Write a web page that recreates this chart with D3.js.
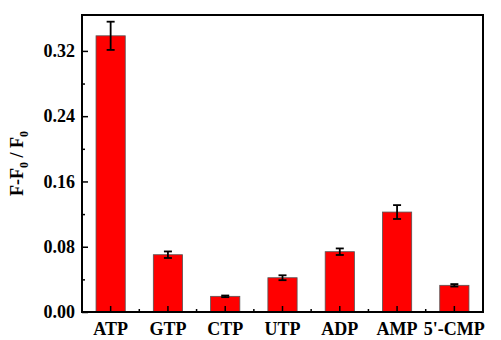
<!DOCTYPE html>
<html><head><meta charset="utf-8">
<script src="https://cdn.jsdelivr.net/npm/d3@7"></script>
<style>body{margin:0;background:#fff}svg{display:block}</style>
</head><body>
<script>
const categories = ["ATP","GTP","CTP","UTP","ADP","AMP","5'-CMP"];
const values = [0.3385, 0.0702, 0.0192, 0.0420, 0.0739, 0.1225, 0.0327];
const errors = [0.0173, 0.0040, 0.0010, 0.0030, 0.0040, 0.0085, 0.0015];
const yTicks = [0, 0.08, 0.16, 0.24, 0.32];
const yMinorTicks = [0.04, 0.12, 0.20, 0.28];

const W = 501, H = 340;
const m = {left: 82, right: 18, top: 15, bottom: 28};
const svg = d3.select("body").append("svg").attr("width", W).attr("height", H);
const font = "'Liberation Serif','Times New Roman',serif";

const x = d3.scaleBand().domain(categories).range([m.left, W - m.right]).paddingInner(0.49).paddingOuter(0.245);
const y = d3.scaleLinear().domain([0, 0.364]).range([H - m.bottom, m.top]);

const g = svg.append("g");
// bars
g.selectAll("rect.bar").data(categories).join("rect")
  .attr("x", d => x(d)).attr("width", x.bandwidth())
  .attr("y", (d,i) => y(values[i])).attr("height", (d,i) => y(0) - y(values[i]))
  .attr("fill", "#ff0000").attr("stroke", "#555").attr("stroke-width", 0.8);

// error bars
const cap = 4;
const eb = g.selectAll("g.err").data(categories).join("g");
eb.append("line").attr("x1", d => x(d) + x.bandwidth()/2).attr("x2", d => x(d) + x.bandwidth()/2)
  .attr("y1", (d,i) => y(values[i] + errors[i])).attr("y2", (d,i) => y(values[i] - errors[i]))
  .attr("stroke", "#000").attr("stroke-width", 1.8);
[1, -1].forEach(s => {
  eb.append("line").attr("x1", d => x(d) + x.bandwidth()/2 - cap).attr("x2", d => x(d) + x.bandwidth()/2 + cap)
    .attr("y1", (d,i) => y(values[i] + s*errors[i])).attr("y2", (d,i) => y(values[i] + s*errors[i]))
    .attr("stroke", "#000").attr("stroke-width", 1.8);
});

// y axis (ticks inward)
const yAxis = d3.axisLeft(y).tickValues(yTicks).tickFormat(d3.format(".2f")).tickSizeInner(-6).tickSizeOuter(0).tickPadding(7);
const ya = svg.append("g").attr("transform", `translate(${m.left},0)`).call(yAxis);
ya.selectAll(".tick text").attr("font-family", font).attr("font-weight", "bold").attr("font-size", 18).attr("fill", "#000");
ya.selectAll(".tick line").attr("stroke", "#000").attr("stroke-width", 1.5);
ya.select(".domain").remove();
const yMinor = d3.axisLeft(y).tickValues(yMinorTicks).tickSize(-3).tickFormat("");
const ym = svg.append("g").attr("transform", `translate(${m.left},0)`).call(yMinor);
ym.select(".domain").remove();
ym.selectAll(".tick line").attr("stroke", "#000").attr("stroke-width", 1.5);

// x axis (ticks inward)
const xAxis = d3.axisBottom(x).tickSizeInner(-6).tickSizeOuter(0).tickPadding(10);
const xa = svg.append("g").attr("transform", `translate(0,${y(0)})`).call(xAxis);
xa.selectAll(".tick text").attr("font-family", font).attr("font-weight", "bold").attr("font-size", 18).attr("fill", "#000");
xa.selectAll(".tick line").attr("stroke", "#000").attr("stroke-width", 1.5);
xa.select(".domain").remove();
// minor x ticks between bars
const step = x.step();
const xMinorPos = categories.slice(1).map(c => x(c) + x.bandwidth()/2 - step/2);
svg.append("g").selectAll("line").data(xMinorPos).join("line")
  .attr("x1", d => d).attr("x2", d => d).attr("y1", y(0)).attr("y2", y(0) - 3)
  .attr("stroke", "#000").attr("stroke-width", 1.5);

// frame
svg.append("rect").attr("x", m.left).attr("y", m.top).attr("width", W - m.left - m.right).attr("height", H - m.top - m.bottom)
  .attr("fill", "none").attr("stroke", "#000").attr("stroke-width", 2);

// y title
const t = svg.append("text").attr("transform", `translate(23,${(m.top + H - m.bottom)/2}) rotate(-90)`)
  .attr("text-anchor", "middle").attr("font-family", font).attr("font-weight", "bold").attr("font-size", 18).attr("fill", "#000");
t.append("tspan").text("F-F");
t.append("tspan").text("0").attr("font-size", 12).attr("dy", 5);
t.append("tspan").text(" / F").attr("dy", -5);
t.append("tspan").text("0").attr("font-size", 12).attr("dy", 5);
</script>
</body></html>
